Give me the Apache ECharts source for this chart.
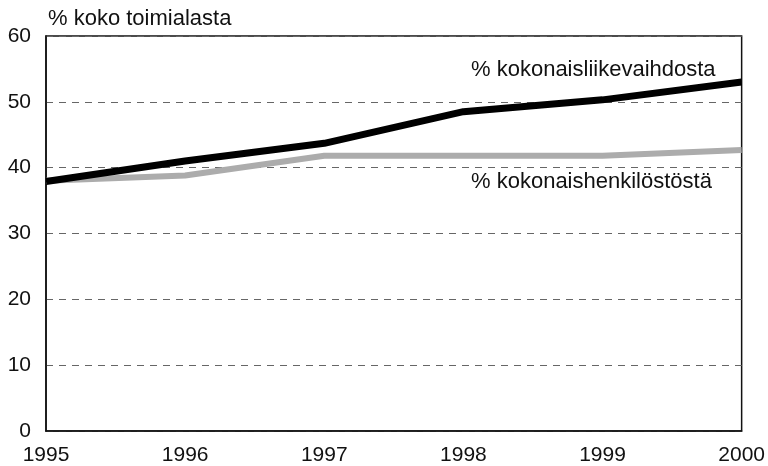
<!DOCTYPE html>
<html>
<head>
<meta charset="utf-8">
<script src="https://cdn.jsdelivr.net/npm/echarts@6/dist/echarts.min.js"></script>
<style>
  html, body { margin: 0; padding: 0; background: #fff; }
  #chart { width: 768px; height: 466px; }
</style>
</head>
<body>
<div id="chart"></div>
<script>
// Years on the horizontal axis
const years = ['1995', '1996', '1997', '1998', '1999', '2000'];
// Share of the whole industry, %
const turnoverShare = [37.9, 41.0, 43.7, 48.5, 50.3, 53.0];
const personnelShare = [38.0, 38.8, 41.8, 41.8, 41.8, 42.7];
const yTicks = [0, 10, 20, 30, 40, 50, 60];
const seriesNames = ['% kokonaisliikevaihdosta', '% kokonaishenkilöstöstä'];
const yAxisTitle = '% koko toimialasta';

const font = '"Liberation Sans", Arial, sans-serif';
const chart = echarts.init(document.getElementById('chart'));

chart.setOption({
  animation: false,
  backgroundColor: '#fff',
  grid: {
    left: 46, right: 25, top: 36, bottom: 34,
    show: true, borderColor: '#111', borderWidth: 1.5, backgroundColor: 'transparent'
  },
  xAxis: {
    type: 'category',
    data: years,
    boundaryGap: false,
    axisLine: { lineStyle: { color: '#111', width: 1.5 } },
    axisTick: { show: false },
    axisLabel: { color: '#111', fontFamily: font, fontSize: 21, margin: 14, showMaxLabel: true, showMinLabel: true },
    splitLine: { show: false }
  },
  yAxis: {
    type: 'value',
    min: yTicks[0], max: yTicks[yTicks.length - 1], interval: 10,
    axisLine: { show: true, lineStyle: { color: '#111', width: 1.5 } },
    axisTick: { show: false },
    axisLabel: { color: '#111', fontFamily: font, fontSize: 21, margin: 15 },
    splitLine: { lineStyle: { color: '#666', type: [7, 6], width: 1 } }
  },
  series: [
    {
      name: seriesNames[1],
      type: 'line',
      data: personnelShare,
      symbol: 'none',
      lineStyle: { color: '#acacac', width: 6 },
      z: 2
    },
    {
      name: seriesNames[0],
      type: 'line',
      data: turnoverShare,
      symbol: 'none',
      lineStyle: { color: '#000', width: 7 },
      z: 3
    }
  ],
  graphic: [
    { type: 'text', left: 48, top: 8,
      style: { text: yAxisTitle, fontFamily: font, fontSize: 22, fill: '#111' } },
    { type: 'text', left: 471, top: 59,
      style: { text: seriesNames[0], fontFamily: font, fontSize: 22, fill: '#111' } },
    { type: 'text', left: 471, top: 171,
      style: { text: seriesNames[1], fontFamily: font, fontSize: 22, fill: '#111' } }
  ]
});
</script>
</body>
</html>
